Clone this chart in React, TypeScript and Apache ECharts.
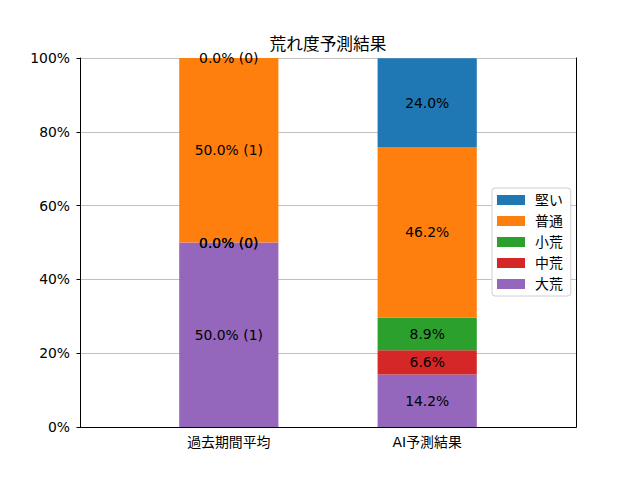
import React, { useEffect, useRef } from "react";
import * as echarts from "echarts";

const title = "荒れ度予測結果";
const categories = ["過去期間平均", "AI予測結果"];
const seriesNames = ["大荒", "中荒", "小荒", "普通", "堅い"];
const seriesColors = ["#9467bd", "#d62728", "#2ca02c", "#ff7f0e", "#1f77b4"];
const pastPct = [50.0, 0.0, 0.0, 50.0, 0.0];
const pastCount = [1, 0, 0, 1, 0];
const aiPct = [14.2, 6.6, 8.9, 46.2, 24.0];
const legendOrder = ["堅い", "普通", "小荒", "中荒", "大荒"];
const yTickValues = [0, 20, 40, 60, 80, 100];

const FONT = "'DejaVu Sans', 'Noto Sans CJK JP', sans-serif";

export default function App() {
  const ref = useRef<HTMLDivElement>(null);
  useEffect(() => {
    if (!ref.current) return;
    const chart = echarts.init(ref.current, undefined, { renderer: "svg" });
    // 5 slots so bars sit at matplotlib positions (xlim -0.75..1.75)
    const slots = ["", categories[0], "", categories[1], ""];
    const series = seriesNames.map((name, i) => ({
      name,
      type: "bar",
      stack: "total",
      barWidth: "100%",
      itemStyle: { color: seriesColors[i] },
      label: {
        show: true,
        position: "inside",
        color: "#000",
        fontFamily: FONT,
        fontSize: 13.9,
        formatter: (p: any) => {
          if (p.dataIndex === 1) return `${pastPct[i].toFixed(1)}% (${pastCount[i]})`;
          return `${aiPct[i].toFixed(1)}%`;
        },
      },
      data: [null, pastPct[i], null, aiPct[i], null],
    }));
    const option: any = {
      animation: false,
      backgroundColor: "#fff",
      textStyle: { fontFamily: FONT },
      title: {
        text: title,
        left: 328,
        top: 36,
        textAlign: "center",
        padding: 0,
        textStyle: { fontFamily: FONT, fontSize: 16.7, fontWeight: "normal", color: "#000" },
      },
      legend: {
        orient: "vertical",
        left: 492,
        top: 188,
        data: legendOrder,
        itemWidth: 28,
        itemHeight: 10,
        itemGap: 7,
        padding: [5, 8, 5, 5],
        backgroundColor: "#fff",
        borderColor: "#d0d0d0",
        borderWidth: 1,
        borderRadius: 3,
        icon: "rect",
        textStyle: { fontFamily: FONT, fontSize: 13.9, color: "#000", lineHeight: 14, padding: [0, 0, 0, 5] },
        z: 10,
      },
      grid: { left: 80, right: 64, top: 58, bottom: 53, containLabel: false },
      xAxis: [
        {
          type: "category",
          data: slots,
          z: 5,
          axisLine: { lineStyle: { color: "#000", width: 1 } },
          axisTick: {
            alignWithLabel: true,
            length: 3.5,
            lineStyle: { color: "#000" },
            interval: (idx: number) => idx === 1 || idx === 3,
          },
          axisLabel: { interval: 0, margin: 8, color: "#000", fontFamily: FONT, fontSize: 13.9 },
        },
        {
          type: "category",
          data: slots,
          position: "top",
          z: 5,
          axisLine: { show: true, lineStyle: { color: "#000", width: 1 } },
          axisTick: { show: false },
          axisLabel: { show: false },
        },
      ],
      yAxis: [
        {
          type: "value",
          min: yTickValues[0],
          max: yTickValues[yTickValues.length - 1],
          interval: 20,
          axisLine: { show: true, lineStyle: { color: "#000", width: 1 } },
          axisTick: { show: true, length: 3.5, lineStyle: { color: "#000" } },
          axisLabel: { margin: 10, color: "#000", fontFamily: FONT, fontSize: 13.9, formatter: (v: number) => `${v}%` },
          splitLine: { show: true, lineStyle: { color: "#b0b0b0", width: 0.8 } },
        },
        {
          type: "value",
          position: "right",
          min: 0,
          max: 100,
          interval: 20,
          z: 5,
          axisLine: { show: true, lineStyle: { color: "#000", width: 1 } },
          axisTick: { show: false },
          axisLabel: { show: false },
          splitLine: { show: false },
        },
      ],
      series,
    };
    chart.setOption(option);
    return () => chart.dispose();
  }, []);
  return (
    <div
      ref={ref}
      style={{ position: "fixed", left: 0, top: 0, width: 640, height: 480, background: "#fff" }}
    />
  );
}
